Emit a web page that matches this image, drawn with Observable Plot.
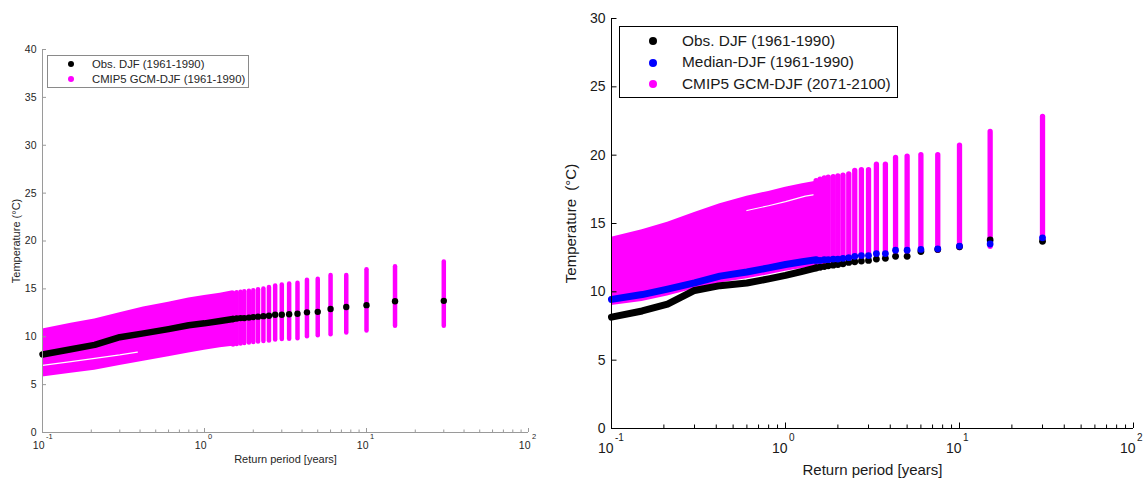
<!DOCTYPE html>
<html><head><meta charset="utf-8">
<script src="https://cdn.jsdelivr.net/npm/d3@7"></script>
<script src="https://cdn.jsdelivr.net/npm/@observablehq/plot@0.6"></script>
<style>
body{margin:0;background:#fff;}
#wrap{position:relative;width:1144px;height:479px;overflow:hidden;font-family:"Liberation Sans",Arial,sans-serif;background:#fff;}
.panel{position:absolute;top:0;}
.legend{position:absolute;background:#fff;box-sizing:border-box;}
.row{position:absolute;white-space:nowrap;}
.dot{position:absolute;border-radius:50%;}
</style>
</head><body>
<div id="wrap"></div>
<script>
// ---------- data ----------
const PINK = "#ff00ff", BLUE = "#0000ff", BLACK = "#000000";

// return periods [years] of the densely packed part (plotted as a band / thick line)
const denseT = [0.1, 0.15, 0.21, 0.3, 0.42, 0.6, 0.8, 1.0, 1.25, 1.5];
// return periods of the separated columns (30/m years)
const colT = [30, 15, 10, 7.5, 6, 5, 4.29, 3.75, 3.33, 3, 2.73, 2.5, 2.31, 2.14, 2, 1.88, 1.76, 1.67, 1.58, 1.5];

// ---- left panel: CMIP5 GCM-DJF (1961-1990) and Obs. DJF (1961-1990)
const leftDenseTop    = [10.8, 11.4, 11.85, 12.5, 13.1, 13.6, 14.05, 14.3, 14.55, 14.8];
const leftDenseBottom = [5.8, 6.2, 6.5, 7.0, 7.45, 7.9, 8.3, 8.6, 8.85, 9.0];
const leftDenseObs    = [8.15, 8.7, 9.15, 9.95, 10.35, 10.8, 11.2, 11.4, 11.65, 11.85];
const leftGapT = [0.1, 0.15, 0.21, 0.3, 0.385];
const leftGapY = [7.0, 7.4, 7.75, 8.1, 8.4];
const leftColTop    = [17.8, 17.3, 17.0, 16.4, 16.4, 16.0, 15.9, 15.6, 15.5, 15.4, 15.3, 15.15, 15.0, 14.9, 14.8, 14.75, 14.7, 14.65, 14.6, 14.55];
const leftColBottom = [11.1, 11.1, 10.6, 10.4, 10.2, 10.1, 10.0, 9.8, 9.75, 9.7, 9.65, 9.55, 9.5, 9.45, 9.4, 9.35, 9.3, 9.25, 9.2, 9.15];
const leftColObs    = [13.75, 13.7, 13.3, 13.1, 12.9, 12.6, 12.55, 12.4, 12.35, 12.3, 12.3, 12.2, 12.15, 12.1, 12.05, 12.0, 11.95, 11.95, 11.9, 11.85];

// ---- right panel: CMIP5 GCM-DJF (2071-2100), Median-DJF (1961-1990), Obs. DJF (1961-1990)
const rightDenseTop    = [14.0, 14.55, 15.1, 15.8, 16.45, 17.0, 17.35, 17.65, 17.9, 18.1];
const rightDenseBottom = [9.0, 9.3, 9.7, 10.2, 10.65, 10.95, 11.25, 11.5, 11.7, 11.85];
const rightDenseMedian = [9.45, 9.8, 10.2, 10.65, 11.15, 11.45, 11.75, 12.0, 12.2, 12.35];
const rightDenseObs    = [8.15, 8.6, 9.1, 10.1, 10.45, 10.65, 10.95, 11.2, 11.5, 11.75];
const rightGapT = [0.6, 0.8, 1.0, 1.3, 1.8, 2.2];
const rightGapY = [15.95, 16.3, 16.6, 17.0, 17.3, 17.4];
const rightColTop    = [22.8, 21.7, 20.7, 20.0, 20.0, 19.9, 19.8, 19.3, 19.3, 18.9, 18.9, 18.85, 18.6, 18.5, 18.45, 18.4, 18.35, 18.3, 18.2, 18.1];
const rightColBottom = [13.8, 13.3, 13.2, 13.0, 12.95, 12.9, 12.9, 12.7, 12.65, 12.55, 12.5, 12.45, 12.4, 12.35, 12.3, 12.25, 12.2, 12.15, 12.1, 12.05];
const rightColMedian = [13.95, 13.5, 13.35, 13.15, 13.1, 13.05, 13.05, 12.8, 12.8, 12.65, 12.65, 12.6, 12.5, 12.45, 12.4, 12.4, 12.35, 12.35, 12.3, 12.3];
const rightColObs    = [13.7, 13.8, 13.3, 13.1, 12.95, 12.6, 12.6, 12.45, 12.4, 12.3, 12.25, 12.2, 12.15, 12.05, 12.0, 11.95, 11.9, 11.85, 11.8, 11.75];

// axes
const xMajor = [0.1, 1, 10, 100];
const xExponents = ["-1", "0", "1", "2"];
const xMinor = [0.2,0.3,0.4,0.5,0.6,0.7,0.8,0.9, 2,3,4,5,6,7,8,9, 20,30,40,50,60,70,80,90];
const leftYTicks = [0, 5, 10, 15, 20, 25, 30, 35, 40];
const rightYTicks = [0, 5, 10, 15, 20, 25, 30];

const xLabel = "Return period [years]";
const leftYLabel = "Temperature (°C)";
const rightYLabel = "Temperature  (°C)";
const leftLegend = [["Obs. DJF (1961-1990)", BLACK], ["CMIP5 GCM-DJF (1961-1990)", PINK]];
const rightLegend = [["Obs. DJF (1961-1990)", BLACK], ["Median-DJF (1961-1990)", BLUE], ["CMIP5 GCM-DJF (2071-2100)", PINK]];

// ---------- drawing ----------
const FONT = "'Liberation Sans', Arial, Helvetica, sans-serif";

function panel(o) {
  const dense = denseT.map((T, i) => ({T, top: o.dTop[i], bottom: o.dBot[i], obs: o.dObs[i], med: o.dMed ? o.dMed[i] : null}));
  const cols = colT.map((T, i) => ({T, top: o.cTop[i], bottom: o.cBot[i], obs: o.cObs[i], med: o.cMed ? o.cMed[i] : null}));
  const gap = o.gapT.map((T, i) => ({T, y: o.gapY[i]}));
  const expRows = xMajor.map((T, i) => ({T, e: xExponents[i]}));
  const pw = o.width - o.ml - o.mr, ph = o.height - o.mt - o.mb;
  const marks = [
    Plot.areaY(dense, {x: "T", y1: "bottom", y2: "top", fill: PINK}),
    Plot.line(gap, {x: "T", y: "y", stroke: "white", strokeWidth: o.gapW}),
    Plot.ruleX(cols, {x: "T", y1: "bottom", y2: "top", stroke: PINK, strokeWidth: o.colW, strokeLinecap: "round"}),
    Plot.line(dense, {x: "T", y: "obs", stroke: BLACK, strokeWidth: o.lineW, strokeLinecap: "round", strokeLinejoin: "round"}),
    Plot.dot(cols, {x: "T", y: "obs", r: o.dotR, fill: BLACK, stroke: "none"})
  ];
  if (o.dMed) {
    marks.push(Plot.line(dense, {x: "T", y: "med", stroke: BLUE, strokeWidth: o.lineW, strokeLinecap: "round", strokeLinejoin: "round"}));
    marks.push(Plot.dot(cols, {x: "T", y: "med", r: o.dotR, fill: BLUE, stroke: "none"}));
  }
  marks.push(
    Plot.ruleX([0.1], {stroke: o.axis, strokeWidth: 1}),
    Plot.ruleY([0], {stroke: o.axis, strokeWidth: 1}),
    Plot.tickY(o.yTicks, {y: d => d, stroke: o.axis, insetRight: pw - o.majorLen}),
    Plot.tickX(xMajor, {x: d => d, stroke: o.axis, insetTop: ph - o.majorLen}),
    Plot.tickX(xMinor, {x: d => d, stroke: o.axis, insetTop: ph - o.minorLen}),
    Plot.text(o.yTicks, {y: d => d, text: d => String(d), frameAnchor: "left", textAnchor: "end", lineAnchor: "middle", dx: -6, fontSize: o.tickFont, fill: o.text}),
    Plot.text(xMajor, {x: d => d, text: () => "10", frameAnchor: "bottom", textAnchor: "end", lineAnchor: "middle", dx: 2, dy: o.baseDy, fontSize: o.tickFont, fill: o.text}),
    Plot.text(expRows, {x: "T", text: "e", frameAnchor: "bottom", textAnchor: "start", lineAnchor: "middle", dx: 3.5, dy: o.expDy, fontSize: o.expFont, fill: o.text}),
    Plot.text([xLabel], {text: d => d, frameAnchor: "bottom", textAnchor: "middle", lineAnchor: "middle", dy: o.xLabDy, fontSize: o.labFont, fill: o.text}),
    Plot.text([o.yLabel], {text: d => d, frameAnchor: "left", textAnchor: "middle", lineAnchor: "middle", rotate: -90, dx: o.yLabDx, fontSize: o.labFont, fill: o.text})
  );
  return Plot.plot({
    width: o.width, height: o.height,
    marginLeft: o.ml, marginRight: o.mr, marginTop: o.mt, marginBottom: o.mb,
    x: {type: "log", domain: [0.1, 100], axis: null},
    y: {domain: o.yDomain, axis: null},
    style: {fontFamily: FONT, background: "white", overflow: "visible"},
    marks
  });
}

function legend(parent, o) {
  const box = document.createElement("div");
  box.className = "legend";
  Object.assign(box.style, {left: o.x + "px", top: o.y + "px", width: o.w + "px", height: o.h + "px", border: "1px solid " + o.border});
  o.items.forEach(([label, color], i) => {
    const cy = o.rowY[i] - o.y;
    const d = document.createElement("div");
    d.className = "dot";
    Object.assign(d.style, {left: (o.dotX - o.x - o.r - 1) + "px", top: (cy - o.r - 1) + "px", width: 2 * o.r + "px", height: 2 * o.r + "px", background: color});
    box.appendChild(d);
    const t = document.createElement("div");
    t.className = "row";
    t.textContent = label;
    Object.assign(t.style, {left: (o.textX - o.x - 1) + "px", top: (cy - o.font * 0.6 - 1) + "px", fontSize: o.font + "px", lineHeight: (o.font * 1.2) + "px", color: o.color});
    box.appendChild(t);
  });
  parent.appendChild(box);
}

const wrap = document.getElementById("wrap");

const left = panel({
  width: 560, height: 479, ml: 42, mr: 32, mt: 49, mb: 47,
  yDomain: [0, 40], yTicks: leftYTicks, yLabel: leftYLabel,
  dTop: leftDenseTop, dBot: leftDenseBottom, dObs: leftDenseObs,
  cTop: leftColTop, cBot: leftColBottom, cObs: leftColObs,
  gapT: leftGapT, gapY: leftGapY, gapW: 1.3,
  colW: 4.5, lineW: 6.5, dotR: 3.2,
  axis: "#9a9a9a", text: "#262626",
  majorLen: 4, minorLen: 2.5,
  tickFont: 10.5, expFont: 7.5, labFont: 11,
  baseDy: 13, expDy: 4.5, xLabDy: 27, yLabDx: -26
});
left.classList.add("panel");
left.style.left = "0px";
wrap.appendChild(left);

const right = panel({
  width: 584, height: 479, ml: 51, mr: 11, mt: 18, mb: 51,
  yDomain: [0, 30], yTicks: rightYTicks, yLabel: rightYLabel,
  dTop: rightDenseTop, dBot: rightDenseBottom, dObs: rightDenseObs, dMed: rightDenseMedian,
  cTop: rightColTop, cBot: rightColBottom, cObs: rightColObs, cMed: rightColMedian,
  gapT: rightGapT, gapY: rightGapY, gapW: 1.2,
  colW: 5.3, lineW: 7, dotR: 3.4,
  axis: "#000", text: "#1a1a1a",
  majorLen: 5.5, minorLen: 3.5,
  tickFont: 14, expFont: 10, labFont: 15,
  baseDy: 20, expDy: 9, xLabDy: 42, yLabDx: -40
});
right.classList.add("panel");
right.style.left = "560px";
wrap.appendChild(right);

legend(wrap, {x: 47, y: 55, w: 202, h: 33, border: "#8a8a8a", items: leftLegend,
  rowY: [64.3, 79.3], dotX: 71, r: 3, textX: 92, font: 11.3, color: "#262626"});
legend(wrap, {x: 619, y: 26, w: 279, h: 72, border: "#000", items: rightLegend,
  rowY: [41, 62.7, 84.3], dotX: 653, r: 4.2, textX: 682, font: 15.4, color: "#1a1a1a"});
</script>
</body></html>
